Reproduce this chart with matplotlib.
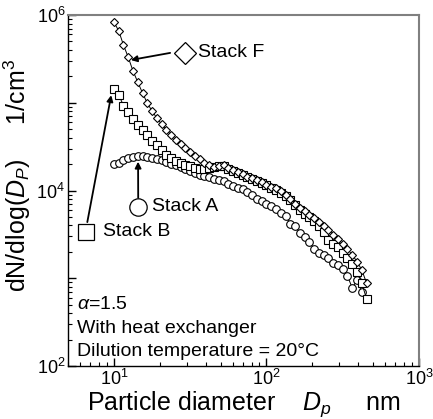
"""Particle size distributions for three stacks (log-log SMPS plot)."""

import math

import matplotlib
matplotlib.use("Agg")
import matplotlib.pyplot as plt
from matplotlib.ticker import FixedLocator, FuncFormatter, LogLocator, NullFormatter

# particle diameter channels (nm), shared by the three stacks
diameter = [10.0, 10.75, 11.55, 12.41, 13.34, 14.33, 15.40, 16.55, 17.78, 19.11,
            20.54, 22.07, 23.71, 25.48, 27.38, 29.43, 31.62, 33.98, 36.52, 39.24,
            42.17, 45.32, 48.70, 52.33, 56.23, 60.43, 64.94, 69.78, 74.99, 80.58,
            86.60, 93.06, 100.0, 107.5, 115.5, 124.1, 133.4, 143.3, 154.0, 165.5,
            177.8, 191.1, 205.4, 220.7, 237.1, 254.8, 273.8, 294.3, 316.2, 339.8,
            365.2, 392.4, 421.7, 453.2]

# dN/dlog(Dp), 1/cm3
stack_f = [8.3e5, 6.6e5, 4.55e5, 3.3e5, 2.3e5, 1.72e5, 1.29e5, 9.9e4, 8.05e4, 6.7e4,
           5.7e4, 4.9e4, 4.3e4, 3.76e4, 3.39e4, 3.05e4, 2.75e4, 2.47e4, 2.26e4, 2.08e4,
           1.95e4, 1.85e4, 1.9e4, 1.93e4, 1.8e4, 1.71e4, 1.63e4, 1.54e4, 1.44e4, 1.39e4,
           1.32e4, 1.25e4, 1.17e4, 1.10e4, 1.07e4, 9.9e3, 9.0e3, 8.0e3, 7.1e3, 6.3e3,
           5.8e3, 5.3e3, 4.86e3, 4.38e3, 3.94e3, 3.55e3, 3.15e3, 2.8e3, 2.46e3, 2.15e3,
           1.84e3, 1.55e3, 1.24e3, 883]
stack_b = [1.44e5, 1.23e5, 9.3e4, 7.75e4, 6.5e4, 5.6e4, 4.9e4, 4.3e4, 3.66e4, 3.3e4,
           2.9e4, 2.57e4, 2.32e4, 2.17e4, 2.06e4, 1.95e4, 1.88e4, 1.80e4, 1.76e4, 1.76e4,
           1.80e4, 1.85e4, 1.9e4, 1.9e4, 1.78e4, 1.69e4, 1.60e4, 1.52e4, 1.43e4, 1.37e4,
           1.30e4, 1.23e4, 1.16e4, 1.08e4, 1.01e4, 9.4e3, 8.7e3, 7.8e3, 6.8e3, 6.0e3,
           5.4e3, 4.99e3, 4.49e3, 3.94e3, 3.37e3, 2.73e3, 2.46e3, 2.27e3, 1.94e3, 1.70e3,
           1.45e3, 1.18e3, 883, 581]
stack_a = [2.03e4, 2.08e4, 2.23e4, 2.32e4, 2.41e4, 2.49e4, 2.47e4, 2.41e4, 2.37e4, 2.29e4,
           2.20e4, 2.11e4, 2.03e4, 1.93e4, 1.85e4, 1.78e4, 1.69e4, 1.60e4, 1.52e4, 1.46e4,
           1.43e4, 1.37e4, 1.32e4, 1.27e4, 1.20e4, 1.13e4, 1.07e4, 1.03e4, 9.5e3, 8.8e3,
           8.1e3, 7.6e3, 7.1e3, 6.6e3, 6.1e3, 5.6e3, 5.1e3, 4.2e3, 3.94e3, 3.28e3,
           2.95e3, 2.59e3, 2.15e3, 1.94e3, 1.84e3, 1.68e3, 1.51e3, 1.42e3, 1.28e3, 1.06e3,
           775, 955, 697, 581]

conditions = [r"$\alpha$=1.5", "With heat exchanger", "Dilution temperature = 20°C"]


def even_decades(v, pos):
    """Label only 10^2, 10^4, 10^6."""
    e = round(math.log10(v))
    return r"$10^{%d}$" % e if e % 2 == 0 else ""


def main():
    plt.rcParams["font.family"] = ["Liberation Sans", "DejaVu Sans"]
    plt.rcParams["mathtext.fontset"] = "custom"
    plt.rcParams["mathtext.rm"] = "Liberation Sans"
    plt.rcParams["mathtext.it"] = "Liberation Sans:italic"
    plt.rcParams["mathtext.bf"] = "Liberation Sans:bold"

    fig = plt.figure(figsize=(4.33, 4.19), dpi=100)
    ax = fig.add_axes([68 / 433, 53 / 419, 351 / 433, 351 / 419])

    # the three measured distributions
    ax.plot(diameter, stack_a, "-o", color="k", lw=0.7, ms=5.5, mfc="white", mec="k", mew=0.8)
    ax.plot(diameter, stack_b, "-s", color="k", lw=0.7, ms=5.5, mfc="white", mec="k", mew=0.8)
    ax.plot(diameter, stack_f, "-D", color="k", lw=0.7, ms=4.2, mfc="white", mec="k", mew=0.8)

    ax.set_xscale("log")
    ax.set_yscale("log")
    ax.set_xlim(5, 1000)
    ax.set_ylim(1e2, 1e6)

    # ticks
    ax.yaxis.set_major_locator(FixedLocator([1e2, 1e3, 1e4, 1e5, 1e6]))
    ax.yaxis.set_major_formatter(FuncFormatter(even_decades))
    ax.yaxis.set_minor_locator(LogLocator(base=10, subs=range(2, 10)))
    ax.yaxis.set_minor_formatter(NullFormatter())
    ax.xaxis.set_minor_locator(LogLocator(base=10, subs=range(2, 10)))
    ax.xaxis.set_minor_formatter(NullFormatter())
    ax.tick_params(which="both", direction="in", top=False, right=False, labelsize=13)
    ax.tick_params(which="major", length=6, width=1)
    ax.tick_params(which="minor", length=3, width=0.8)
    ax.tick_params(axis="x", pad=2)
    ax.tick_params(axis="y", pad=2)

    for side in ["top", "right"]:
        ax.spines[side].set_color("#808080")
        ax.spines[side].set_linewidth(1.5)
    for side in ["left", "bottom"]:
        ax.spines[side].set_color("k")
        ax.spines[side].set_linewidth(1.0)

    ax.set_xlabel(r"Particle diameter    $D_p$     nm", fontsize=18, va="baseline")
    ax.xaxis.set_label_coords(0.5, -(409.5 - 366) / 351)
    ax.set_ylabel(r"dN/dlog($D_P$)     1/cm$^3$", fontsize=18, va="center")
    ax.yaxis.set_label_coords(-(68 - 17) / 351, (366 - 175) / 351)

    # series labels with arrows
    arrow = dict(arrowstyle="-|>", color="k", lw=1.3, mutation_scale=9, shrinkA=0, shrinkB=0)
    ax.annotate("", xy=(12.9, 3.07e5), xycoords="data", xytext=(0.291, 0.892),
                textcoords="axes fraction", arrowprops=arrow)
    ax.plot([0.333], [0.892], "D", ms=11.5, mfc="white", mec="k", mew=0.9,
            transform=ax.transAxes, clip_on=False)
    ax.text(0.370, 0.892, "Stack F", transform=ax.transAxes, fontsize=14, va="center")

    ax.annotate("", xy=(9.6, 1.22e5), xycoords="data", xytext=(0.055, 0.410),
                textcoords="axes fraction", arrowprops=arrow)
    ax.plot([0.051], [0.382], "s", ms=11.5, mfc="white", mec="k", mew=0.9,
            transform=ax.transAxes, clip_on=False)
    ax.text(0.0997, 0.382, "Stack B", transform=ax.transAxes, fontsize=14, va="center")

    ax.annotate("", xy=(14.4, 2.13e4), xycoords="data", xytext=(0.200, 0.479),
                textcoords="axes fraction", arrowprops=arrow)
    ax.plot([0.200], [0.454], "o", ms=12.5, mfc="white", mec="k", mew=0.9,
            transform=ax.transAxes, clip_on=False)
    ax.text(0.239, 0.454, "Stack A", transform=ax.transAxes, fontsize=14, va="center")

    # measurement conditions
    for line, fy in zip(conditions, [0.174, 0.108, 0.040]):
        ax.text(0.026, fy, line, transform=ax.transAxes, fontsize=14, va="center")

    fig.savefig("out.png", dpi=100)


if __name__ == "__main__":
    main()
